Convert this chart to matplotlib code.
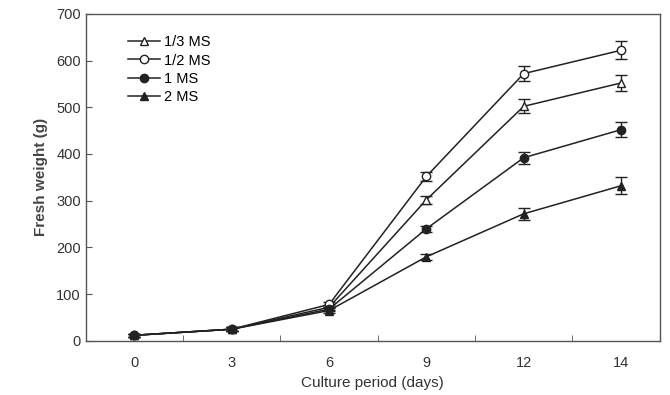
import matplotlib
matplotlib.use("Agg")
import matplotlib.pyplot as plt
import numpy as np

days = ["0", "3", "6", "9", "12", "14"]

ms_1_3 = [12, 25, 72, 302, 502, 552]
ms_1_2 = [12, 25, 78, 352, 572, 622]
ms_1 = [12, 25, 68, 240, 392, 452]
ms_2 = [12, 25, 65, 180, 272, 332]

err_1_3 = [3, 4, 5, 8, 15, 17]
err_1_2 = [3, 4, 5, 9, 16, 19]
err_1 = [3, 4, 5, 6, 13, 16]
err_2 = [3, 4, 5, 6, 13, 18]

series = [
    ("1/3 MS", ms_1_3, err_1_3, "^", "white"),
    ("1/2 MS", ms_1_2, err_1_2, "o", "white"),
    ("1 MS", ms_1, err_1, "o", "#222222"),
    ("2 MS", ms_2, err_2, "^", "#222222"),
]

plt.rcParams["font.family"] = ["Liberation Sans", "DejaVu Sans"]

fig = plt.figure(figsize=(6.7, 3.95), dpi=100)
ax = fig.add_axes([0.128, 0.137, 0.857, 0.828])

x = np.arange(len(days))
for label, vals, err, marker, face in series:
    ax.errorbar(x, vals, yerr=err, fmt="none", ecolor="#222222",
                capsize=4, elinewidth=1, capthick=1)
    ax.plot(x, vals, color="#222222", marker=marker, markersize=6,
            markerfacecolor=face, markeredgecolor="#222222", markeredgewidth=1,
            linewidth=1.1, label=label)

ax.set_xlim(-0.5, 5.4)
ax.set_ylim(0, 700)
ax.set_xticks(x)
ax.set_xticklabels(days)
ax.set_xticks(x[:-1] + 0.5, minor=True)
ax.tick_params(axis="x", which="major", length=0, pad=11, labelsize=10.5, colors="#333333")
ax.tick_params(axis="x", which="minor", length=4, direction="in", color="#555555")
ax.set_yticks(np.arange(0, 701, 100))
ax.tick_params(axis="y", direction="in", length=4, labelsize=10.5, colors="#333333", color="#555555")

for s in ax.spines.values():
    s.set_color("#555555")
    s.set_linewidth(1)

ax.set_xlabel("Culture period (days)", fontsize=11, color="#333333", labelpad=4)
ax.set_ylabel("Fresh weight (g)", fontsize=11, fontweight="bold", color="#444444", labelpad=6)

leg = ax.legend(loc="upper left", bbox_to_anchor=(0.05, 0.975), frameon=False,
                fontsize=10.5, handlelength=2.2, labelspacing=0.3, handletextpad=0.3)

fig.savefig("out.png", dpi=100)
